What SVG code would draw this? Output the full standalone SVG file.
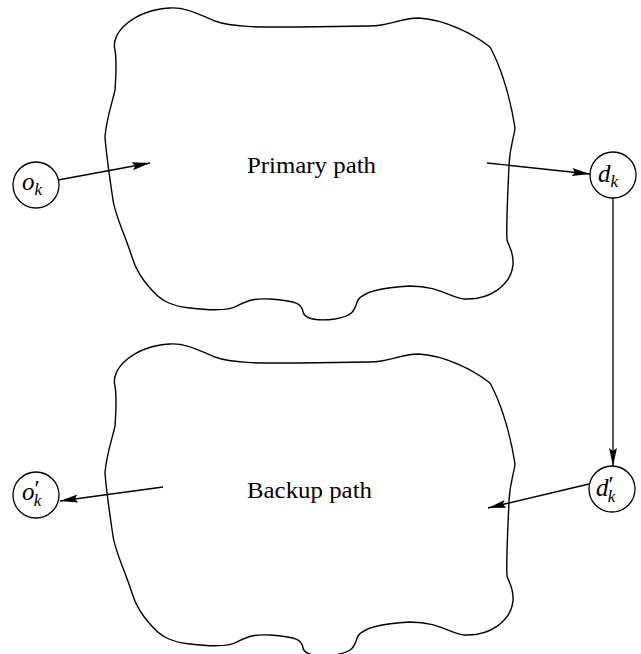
<svg xmlns="http://www.w3.org/2000/svg" width="641" height="654" viewBox="0 0 641 654">
  <defs>
    <style>
      .blob { fill: none; stroke: #000; stroke-width: 1.4; stroke-linejoin: round; }
      .node circle { fill: #fff; stroke: #000; stroke-width: 1.3; }
      .conn { fill: none; stroke: #000; stroke-width: 1.3; marker-end: url(#head); }
      text { font-family: "Liberation Serif", Times, serif; fill: #000; }
      .lbl { font-size: 23px; }
      .m { font-style: italic; font-size: 25px; }
      .sub { font-size: 17px; }
      .pr { font-size: 24px; font-style: normal; }
    </style>
    <marker id="head" markerUnits="userSpaceOnUse" markerWidth="20" markerHeight="10" refX="18" refY="4" orient="auto">
      <path d="M0,0 L18,4 L0,8 L3,4 Z" fill="#000"/>
    </marker>
    <path id="cloud" d="M115,50 C110,32 135,10 170,8 C185,7 198,14 215,21 C235,28 265,27 300,27 L370,26 C390,26 400,18 418,18 C445,19 475,35 490,47 C500,65 510,95 515,128 C514,138 510,145 509,165 C508,190 506,225 507,240 C509,247 514,252 513,265 C511,285 490,300 465,299 C450,298 440,286 410,286 C390,287 365,290 358,300 C354,308 357,315 335,319 C320,321 305,320 303,312 C302,303 295,301 270,299 C250,298 245,302 237,306 C230,310 215,311 190,308 C170,306 160,300 150,288 C140,277 135,267 132,257 C125,235 115,215 113,200 C110,180 106,150 105,137 C106,120 113,100 115,90 C116,75 117,62 115,50 Z"/>
  </defs>

  <!-- path regions -->
  <g id="primary-path">
    <use href="#cloud" class="blob"/>
    <text class="lbl" x="247" y="173" textLength="129" lengthAdjust="spacingAndGlyphs">Primary path</text>
  </g>
  <g id="backup-path">
    <use href="#cloud" class="blob" transform="translate(0,336)"/>
    <text class="lbl" x="247" y="498" textLength="125" lengthAdjust="spacingAndGlyphs">Backup path</text>
  </g>

  <!-- connectors -->
  <g id="connectors">
    <line class="conn" x1="58" y1="180" x2="150" y2="163"/>
    <line class="conn" x1="487" y1="163" x2="590" y2="174"/>
    <line class="conn" x1="613" y1="198" x2="613" y2="466"/>
    <line class="conn" x1="589" y1="484" x2="488" y2="508"/>
    <line class="conn" x1="163" y1="487" x2="60" y2="501"/>
  </g>

  <!-- endpoint nodes -->
  <g id="o-k" class="node">
    <circle cx="36" cy="185" r="23"/>
    <text class="m" x="22" y="190">o<tspan class="sub" dy="5">k</tspan></text>
  </g>
  <g id="d-k" class="node">
    <circle cx="613" cy="175" r="23"/>
    <text class="m" x="598" y="182">d<tspan class="sub" dy="5">k</tspan></text>
  </g>
  <g id="d-k-prime" class="node">
    <circle cx="612" cy="489" r="23"/>
    <text class="m" x="596" y="496">d<tspan class="pr" dy="-4">′</tspan><tspan class="sub" dx="-6" dy="10">k</tspan></text>
  </g>
  <g id="o-k-prime" class="node">
    <circle cx="36" cy="495" r="23"/>
    <text class="m" x="22" y="500">o<tspan class="pr" dy="-4">′</tspan><tspan class="sub" dx="-6" dy="10">k</tspan></text>
  </g>
</svg>
